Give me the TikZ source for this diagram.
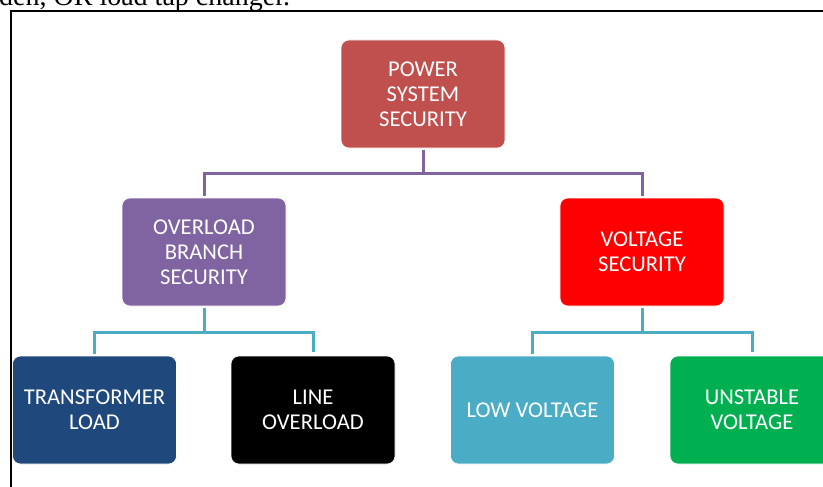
\documentclass[tikz,border=0pt]{standalone}
\usepackage{fontspec}
\setmainfont{Carlito}
\newfontfamily\capfont{Liberation Serif}
\definecolor{cRoot}{HTML}{C0504D}
\definecolor{cOver}{HTML}{8064A2}
\definecolor{cVolt}{HTML}{FF0000}
\definecolor{cTrans}{HTML}{1F497D}
\definecolor{cLine}{HTML}{000000}
\definecolor{cLow}{HTML}{4BACC6}
\definecolor{cUnst}{HTML}{00B050}
\begin{document}
\begin{tikzpicture}[x=1pt,y=-1pt,
  box/.style={rectangle, rounded corners=8pt, minimum width=164pt, minimum height=108pt,
    inner sep=0pt, align=center, text=white, draw=white, line width=0.6pt,
    font=\fontsize{22.6}{24.8}\selectfont},
  lvlone/.style={draw=cOver, line width=3pt, shorten <=2pt, shorten >=2pt},
  lvltwo/.style={draw=cLow, line width=3pt, shorten <=2pt, shorten >=4pt},
  frameline/.style={draw=black, line width=2pt}]
\useasboundingbox (0,0) rectangle (823,487);
\clip (0,0) rectangle (823,487);
% caption fragment
\node[anchor=base west, inner sep=0pt, font=\capfont\fontsize{28}{31}\selectfont] (cap) at (-1,5.5) {den, OR load tap changer.};
% frame
\coordinate (fbl) at (10.5,495);
\coordinate (ftl) at (10.5,11);
\coordinate (ftr) at (830,11);
\draw[frameline] (fbl) -- (ftl) -- (ftr);
% boxes
\node[box, fill=cRoot] (root) at (423,94) {POWER\\SYSTEM\\SECURITY};
\node[box, fill=cOver] (obs) at (204,252) {OVERLOAD\\BRANCH\\SECURITY};
\node[box, fill=cVolt] (vs) at (642,252) {VOLTAGE\\SECURITY};
\node[box, fill=cTrans] (tl) at (94.5,410) {TRANSFORMER\\LOAD};
\node[box, fill=cLine] (lo) at (313,410) {LINE\\OVERLOAD};
\node[box, fill=cLow] (lv) at (532.5,410) {LOW VOLTAGE};
\node[box, fill=cUnst] (uv) at (752,410) {UNSTABLE\\VOLTAGE};
% connectors
\coordinate (j1) at (423,173);
\coordinate (j2) at (204,332);
\coordinate (j3) at (642,332);
\draw[lvlone, shorten >=0pt] (root.south) -- (j1);
\draw[lvlone] (obs.north) |- (j1) -| (vs.north);
\draw[lvltwo, shorten >=0pt] (obs.south) -- (j2);
\draw[lvltwo] (tl.north) |- (j2) -| (lo.north);
\draw[lvltwo, shorten >=0pt] (vs.south) -- (j3);
\draw[lvltwo] (lv.north) |- (j3) -| (uv.north);
\end{tikzpicture}
\end{document}
